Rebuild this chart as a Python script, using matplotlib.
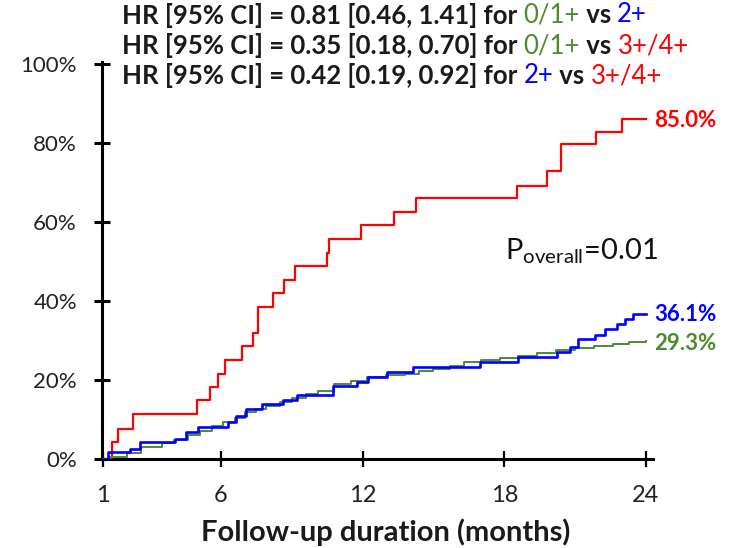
import matplotlib
matplotlib.use("Agg")
import matplotlib.pyplot as plt

# ---------------- data ----------------
red_t = [1.0, 1.37, 1.65, 2.28, 4.97, 5.53, 5.89, 6.17, 6.88, 7.37, 7.58, 8.19, 8.67, 9.14,
         10.5, 10.59, 11.92, 13.33, 14.26, 18.53, 19.8, 20.4, 21.9, 22.98, 24.0]
red_v = [0.0, 4.4, 7.7, 11.5, 14.9, 18.2, 21.6, 25.1, 28.5, 31.8, 38.5, 41.9, 45.3, 48.9,
         52.2, 55.8, 59.2, 62.5, 66.1, 69.2, 72.8, 79.7, 82.9, 86.0, 86.0]

blue_t = [1.0, 1.21, 2.13, 2.55, 4.04, 4.53, 5.03, 6.30, 6.65, 7.07, 7.72, 8.64, 9.21, 10.76,
          11.75, 12.24, 13.02, 14.15, 16.97, 18.6, 20.22, 20.79, 21.14, 21.85, 22.27, 22.77,
          23.12, 23.47, 24.0]
blue_v = [0.0, 1.7, 2.6, 4.3, 5.1, 6.8, 8.1, 9.3, 11.0, 12.7, 14.0, 15.0, 16.3, 18.6,
          19.4, 20.7, 22.0, 23.2, 24.5, 25.8, 27.0, 28.3, 30.4, 31.4, 33.0, 34.2,
          35.5, 36.8, 36.8]

green_t = [1.0, 1.3, 2.0, 2.6, 3.5, 4.0, 4.6, 5.1, 5.6, 6.1, 6.6, 7.0, 7.5, 7.9, 8.5, 9.0,
           9.6, 10.1, 10.8, 11.5, 12.2, 13.0, 13.8, 14.4, 15.0, 15.7, 16.3, 17.0, 17.8,
           18.6, 19.4, 20.2, 21.0, 21.8, 22.6, 23.3, 24.0]
green_v = [0.0, 0.5, 1.5, 3.0, 4.0, 4.7, 6.0, 7.2, 8.3, 9.3, 10.5, 12.0, 12.6, 13.5, 14.5, 15.5,
           16.5, 17.3, 19.0, 19.8, 20.7, 21.2, 21.6, 22.4, 22.8, 23.5, 24.5, 25.0, 25.5,
           26.2, 26.8, 27.5, 28.0, 28.5, 29.0, 29.5, 29.9]

x_ticks = [1, 6, 12, 18, 24]
y_ticks = [0, 20, 40, 60, 80, 100]
y_ticklabels = ["0%", "20%", "40%", "60%", "80%", "100%"]
end_labels = ["85.0%", "36.1%", "29.3%"]

hr_lines = [
    [("HR [95% CI] = 0.81 [0.46, 1.41] for ", "dark"), ("0/1+", "green"), (" vs ", "dark"), ("2+", "blue")],
    [("HR [95% CI] = 0.35 [0.18, 0.70] for ", "dark"), ("0/1+", "green"), (" vs ", "dark"), ("3+/4+", "red")],
    [("HR [95% CI] = 0.42 [0.19, 0.92] for ", "dark"), ("2+", "blue"), (" vs ", "dark"), ("3+/4+", "red")],
]

RED = "#FF0000"
BLUE = "#0000FF"
GREEN = "#4E8B30"
DARK = "#1a1a1a"
cmap = {"dark": DARK, "green": GREEN, "blue": BLUE, "red": RED}

plt.rcParams['font.family'] = ['Lato', 'DejaVu Sans']
plt.rcParams['mathtext.fontset'] = 'custom'
plt.rcParams['mathtext.rm'] = 'Lato'

W, H = 731, 548
fig = plt.figure(figsize=(W / 100, H / 100), dpi=100)

def fx(px):
    return px / W

def fy(py):
    return 1 - py / H

ax = fig.add_axes([fx(102), fy(459), fx(653) - fx(102), fy(62) - fy(459)])
ax.set_xlim(0.96, 24.3)
ax.set_ylim(0, 100.5)

ax.step(red_t, red_v, where='post', color=RED, lw=1.6, zorder=3)
ax.step(green_t, green_v, where='post', color=GREEN, lw=1.4, zorder=3)
ax.step(blue_t, blue_v, where='post', color=BLUE, lw=1.9, zorder=4)

for s in ['top', 'right']:
    ax.spines[s].set_visible(False)
for s in ['left', 'bottom']:
    ax.spines[s].set_linewidth(2.2)
    ax.spines[s].set_color('black')

ax.set_xticks(x_ticks)
ax.set_xticklabels([str(t) for t in x_ticks])
ax.set_yticks(y_ticks)
ax.set_yticklabels(y_ticklabels)
ax.tick_params(axis='y', direction='inout', length=12, width=2.2, labelsize=16, pad=12,
               colors='black', labelcolor='#222222')
ax.tick_params(axis='x', direction='inout', length=12, width=1.6, labelsize=17, pad=13,
               colors='black', labelcolor='#222222')

# x axis title
fig.text(fx(386), fy(541), "Follow-up duration (months)", fontsize=21, fontweight='bold',
         color='#1a1a1a', ha='center', va='baseline')

# end labels
ax.text(24.35, red_v[-1] - 0.3, end_labels[0], color=RED, fontsize=16, fontweight='bold',
        va='center', ha='left')
ax.text(24.35, blue_v[-1] - 0.3, end_labels[1], color=BLUE, fontsize=16, fontweight='bold',
        va='center', ha='left')
ax.text(24.35, green_v[-1] - 0.7, end_labels[2], color=GREEN, fontsize=16, fontweight='bold',
        va='center', ha='left')

# P overall
fig.text(fx(505), fy(251), r"P$_{\mathregular{overall}}$=0.01", fontsize=21, color='#111111',
         va='center', ha='left')

# HR lines (multi-colour)
fig.canvas.draw()
renderer = fig.canvas.get_renderer()
line_y = [15, 46, 76]
for parts, py in zip(hr_lines, line_y):
    x0 = 122
    for txt, c in parts:
        weight = 'bold' if c == 'dark' else 'normal'
        t = fig.text(fx(x0), fy(py), txt, color=cmap[c], fontsize=18.5, fontweight=weight,
                     va='center', ha='left')
        bb = t.get_window_extent(renderer=renderer)
        x0 += bb.width

fig.savefig("out.png", dpi=100)
